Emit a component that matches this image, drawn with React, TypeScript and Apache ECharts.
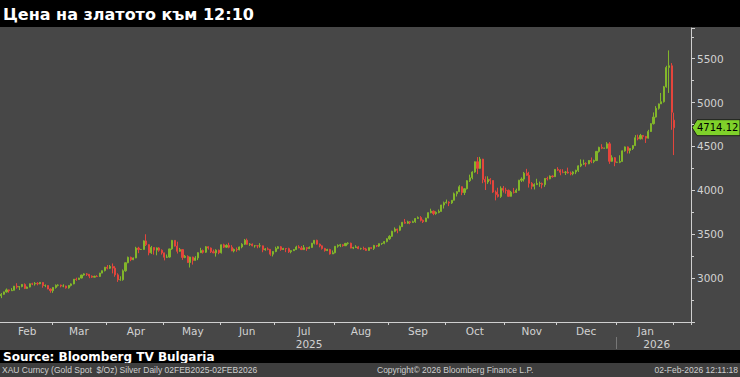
import React, { useEffect, useRef } from "react";
import * as echarts from "echarts";

// ---- Data: daily gold spot candles [open, close, low, high] ----
const feb25 = [
  [2798, 2815, 2772, 2830], [2815, 2843, 2810, 2846], [2843, 2866, 2835, 2882], [2866, 2856, 2834, 2870], [2856, 2861, 2853, 2886],
  [2861, 2908, 2860, 2911], [2908, 2898, 2880, 2942], [2898, 2904, 2864, 2910], [2904, 2928, 2895, 2932], [2928, 2883, 2875, 2940],
  [2883, 2898, 2880, 2905], [2898, 2935, 2895, 2938], [2935, 2933, 2920, 2947], [2933, 2940, 2915, 2955], [2940, 2936, 2918, 2954],
  [2936, 2951, 2930, 2956], [2951, 2915, 2890, 2953], [2915, 2916, 2897, 2928], [2916, 2876, 2873, 2918], [2876, 2857, 2833, 2882],
];
const mar25 = [
  [2857, 2893, 2832, 2896], [2893, 2918, 2880, 2928], [2918, 2920, 2905, 2930], [2920, 2910, 2895, 2926], [2910, 2910, 2896, 2930],
  [2910, 2889, 2880, 2914], [2889, 2917, 2880, 2920], [2917, 2934, 2905, 2940], [2934, 2988, 2930, 2990], [2988, 2984, 2970, 3005],
  [2984, 3001, 2982, 3004], [3001, 3035, 2998, 3038], [3035, 3048, 3027, 3055], [3048, 3044, 3025, 3057], [3044, 3023, 2999, 3047],
  [3023, 3011, 3003, 3031], [3011, 3020, 3010, 3028], [3020, 3019, 3012, 3034], [3019, 3057, 3013, 3060], [3057, 3085, 3055, 3087],
  [3085, 3124, 3076, 3128],
];
const apr25 = [
  [3124, 3113, 3100, 3149], [3113, 3133, 3105, 3149], [3133, 3114, 3054, 3167], [3114, 3037, 3015, 3136],
  [3037, 2982, 2957, 3055], [2982, 2982, 2970, 3021], [2982, 3083, 2970, 3099], [3083, 3175, 3073, 3177], [3175, 3237, 3170, 3245],
  [3237, 3210, 3193, 3245], [3210, 3230, 3205, 3235], [3230, 3342, 3227, 3357], [3342, 3327, 3284, 3357], [3327, 3327, 3322, 3332],
  [3327, 3424, 3325, 3430], [3424, 3381, 3366, 3500], [3381, 3288, 3260, 3386], [3288, 3349, 3276, 3367], [3349, 3319, 3268, 3353],
  [3319, 3344, 3260, 3350], [3344, 3317, 3300, 3353], [3317, 3288, 3268, 3328],
];
const may25 = [
  [3288, 3238, 3202, 3290], [3238, 3240, 3229, 3269],
  [3240, 3333, 3233, 3334], [3333, 3430, 3323, 3435], [3430, 3365, 3360, 3433], [3365, 3306, 3280, 3415], [3306, 3325, 3300, 3344],
  [3325, 3236, 3208, 3325], [3236, 3249, 3227, 3264], [3249, 3178, 3173, 3259], [3178, 3240, 3121, 3243], [3240, 3202, 3154, 3244],
  [3202, 3230, 3205, 3250], [3230, 3290, 3205, 3295], [3290, 3314, 3286, 3345], [3314, 3295, 3280, 3326], [3295, 3357, 3287, 3365],
  [3357, 3343, 3325, 3363], [3343, 3300, 3286, 3349], [3300, 3288, 3285, 3325], [3288, 3318, 3245, 3329], [3318, 3289, 3272, 3325],
];
const jun25 = [
  [3289, 3380, 3280, 3383], [3380, 3353, 3343, 3392], [3353, 3373, 3345, 3385], [3373, 3352, 3340, 3403], [3352, 3310, 3307, 3376],
  [3310, 3326, 3293, 3338], [3326, 3323, 3300, 3349], [3323, 3355, 3316, 3360], [3355, 3386, 3340, 3398], [3386, 3432, 3378, 3446],
  [3432, 3385, 3380, 3451], [3385, 3388, 3367, 3399], [3388, 3369, 3362, 3395], [3369, 3369, 3347, 3377], [3369, 3368, 3340, 3372],
  [3368, 3368, 3347, 3398], [3368, 3323, 3295, 3370], [3323, 3333, 3312, 3343], [3333, 3328, 3317, 3350], [3328, 3273, 3255, 3330],
  [3273, 3303, 3247, 3309],
];
const jul25 = [
  [3303, 3338, 3295, 3358], [3338, 3357, 3330, 3365], [3357, 3326, 3311, 3366], [3326, 3337, 3323, 3345],
  [3337, 3336, 3296, 3343], [3336, 3301, 3287, 3347], [3301, 3313, 3283, 3317], [3313, 3325, 3310, 3330], [3325, 3355, 3322, 3369],
  [3355, 3344, 3340, 3375], [3344, 3325, 3320, 3366], [3325, 3347, 3320, 3377], [3347, 3338, 3310, 3352], [3338, 3350, 3333, 3361],
  [3350, 3397, 3345, 3402], [3397, 3431, 3384, 3433], [3431, 3387, 3381, 3438], [3387, 3368, 3351, 3394], [3368, 3337, 3325, 3372],
  [3337, 3314, 3302, 3345], [3314, 3326, 3308, 3334], [3326, 3275, 3268, 3334], [3275, 3289, 3275, 3315],
];
const aug25 = [
  [3289, 3363, 3282, 3364],
  [3363, 3373, 3347, 3385], [3373, 3380, 3353, 3390], [3380, 3369, 3358, 3385], [3369, 3396, 3366, 3401], [3396, 3398, 3381, 3409],
  [3398, 3342, 3340, 3404], [3342, 3348, 3331, 3357], [3348, 3356, 3345, 3375], [3356, 3336, 3330, 3367], [3336, 3336, 3324, 3346],
  [3336, 3332, 3323, 3358], [3332, 3316, 3311, 3345], [3316, 3347, 3312, 3350], [3347, 3339, 3331, 3351], [3339, 3371, 3321, 3379],
  [3371, 3365, 3353, 3376], [3365, 3393, 3355, 3394], [3393, 3397, 3378, 3398], [3397, 3416, 3386, 3423], [3416, 3448, 3408, 3454],
];
const sep25 = [
  [3448, 3476, 3436, 3489], [3476, 3533, 3470, 3540], [3533, 3559, 3523, 3578], [3559, 3545, 3511, 3563], [3545, 3586, 3535, 3600],
  [3586, 3636, 3583, 3640], [3636, 3626, 3620, 3674], [3626, 3641, 3620, 3654], [3641, 3634, 3614, 3650], [3634, 3643, 3631, 3655],
  [3643, 3679, 3630, 3685], [3679, 3690, 3675, 3703], [3690, 3659, 3646, 3707], [3659, 3643, 3628, 3668], [3643, 3685, 3640, 3687],
  [3685, 3746, 3682, 3749], [3746, 3763, 3739, 3791], [3763, 3736, 3717, 3770], [3736, 3749, 3722, 3761], [3749, 3760, 3739, 3782],
  [3760, 3833, 3758, 3835], [3833, 3858, 3793, 3872],
];
const oct25 = [
  [3858, 3866, 3850, 3895], [3866, 3857, 3820, 3875], [3857, 3887, 3845, 3889],
  [3887, 3961, 3885, 3975], [3961, 3985, 3930, 3990], [3985, 4041, 3980, 4059], [4041, 3975, 3945, 4045], [3975, 4018, 3947, 4022],
  [4018, 4110, 4010, 4116], [4110, 4143, 4096, 4179], [4143, 4209, 4125, 4218], [4209, 4326, 4200, 4329], [4326, 4251, 4185, 4379],
  [4251, 4356, 4244, 4381], [4356, 4125, 4082, 4359], [4125, 4095, 4004, 4160], [4095, 4126, 4073, 4160], [4126, 4112, 4068, 4139],
  [4112, 3981, 3971, 4115], [3981, 3952, 3886, 3999], [3952, 3931, 3918, 4030], [3931, 4024, 3914, 4046], [4024, 4002, 3975, 4050],
];
const nov25 = [
  [4002, 4000, 3962, 4030], [4000, 3932, 3930, 4009], [3932, 3979, 3929, 3994], [3979, 3977, 3964, 4028], [3977, 4001, 3970, 4020],
  [4001, 4115, 3995, 4120], [4115, 4128, 4095, 4148], [4128, 4195, 4100, 4210], [4195, 4171, 4164, 4245], [4171, 4080, 4032, 4211],
  [4080, 4046, 4012, 4094], [4046, 4066, 4010, 4080], [4066, 4078, 4060, 4132], [4078, 4078, 4040, 4100], [4078, 4065, 4022, 4090],
  [4065, 4136, 4040, 4140], [4136, 4131, 4113, 4156], [4131, 4163, 4127, 4170], [4163, 4156, 4145, 4170], [4156, 4239, 4155, 4240],
];
const dec25 = [
  [4239, 4230, 4220, 4264], [4230, 4206, 4172, 4240], [4206, 4205, 4195, 4241], [4205, 4208, 4175, 4220], [4208, 4198, 4190, 4259],
  [4198, 4190, 4171, 4215], [4190, 4209, 4172, 4218], [4209, 4228, 4185, 4235], [4228, 4279, 4210, 4285], [4279, 4300, 4265, 4353],
  [4300, 4305, 4290, 4350], [4305, 4302, 4270, 4320], [4302, 4340, 4298, 4345], [4340, 4330, 4310, 4375], [4330, 4339, 4310, 4350],
  [4339, 4444, 4336, 4449], [4444, 4490, 4430, 4497], [4490, 4480, 4470, 4526], [4480, 4480, 4476, 4486], [4480, 4530, 4475, 4550],
  [4530, 4331, 4302, 4550], [4331, 4372, 4325, 4400], [4372, 4320, 4275, 4380],
];
const jan26 = [
  [4320, 4320, 4315, 4326], [4320, 4330, 4310, 4400],
  [4330, 4450, 4325, 4455], [4450, 4495, 4440, 4500], [4495, 4455, 4420, 4500], [4455, 4477, 4420, 4480], [4477, 4510, 4460, 4515],
  [4510, 4600, 4505, 4630], [4600, 4588, 4570, 4635], [4588, 4625, 4580, 4643], [4625, 4615, 4580, 4630], [4615, 4595, 4540, 4620],
  [4595, 4670, 4590, 4690], [4670, 4760, 4665, 4765], [4760, 4835, 4750, 4888], [4835, 4935, 4830, 4960], [4935, 4985, 4920, 4990],
  [4985, 5010, 4985, 5110], [5010, 5180, 5000, 5190], [5180, 5400, 5170, 5420], [5400, 5420, 5110, 5595], [5420, 4890, 4690, 5450],
];
const feb26 = [[4800, 4714, 4402, 4885]];

const ohlc = [...feb25, ...mar25, ...apr25, ...may25, ...jun25, ...jul25, ...aug25, ...sep25, ...oct25, ...nov25, ...dec25, ...jan26, ...feb26];

const LAST_PRICE = 4714.12;
const yTickLabels = [3000, 3500, 4000, 4500, 5000, 5500];
const monthNames = ["Jan", "Feb", "Mar", "Apr", "May", "Jun", "Jul", "Aug", "Sep", "Oct", "Nov", "Dec"];
const yearLabels: Record<string, string> = { "2025-07": "2025", "2026-01": "2026" };

const TITLE = "Цена на златото към 12:10";
const SOURCE = "Source: Bloomberg TV Bulgaria";
const FOOT_LEFT = "XAU Curncy (Gold Spot  $/Oz) Silver Daily 02FEB2025-02FEB2026";
const FOOT_MID = "Copyright© 2026 Bloomberg Finance L.P.";
const FOOT_RIGHT = "02-Feb-2026 12:11:18";

// weekday calendar: 02FEB2025 window, plus a few empty days on the right
const TOTAL_SLOTS = ohlc.length + 6;
function weekdays(start: string, n: number): string[] {
  const out: string[] = [];
  const d = new Date(start + "T00:00:00Z");
  while (out.length < n) {
    const wd = d.getUTCDay();
    if (wd !== 0 && wd !== 6) out.push(d.toISOString().slice(0, 10));
    d.setUTCDate(d.getUTCDate() + 1);
  }
  return out;
}
const categories = weekdays("2025-02-03", TOTAL_SLOTS);

const FONT = '"DejaVu Sans", Verdana, sans-serif';
const SMALL_FONT = '"Liberation Sans", Arial, sans-serif';
const UP = "#82b62a";
const DOWN = "#e4453c";
const AXIS = "#cfcfcf";
const BG = "#474747";

export default function App() {
  const ref = useRef<HTMLDivElement>(null);
  useEffect(() => {
    if (!ref.current) return;
    const chart = echarts.init(ref.current, null, { renderer: "svg" });

    const monthStart = new Set<number>();
    const labelAt = new Map<number, string>();
    let janStartIdx = -1;
    const months: { key: string; s: number; n: number }[] = [];
    categories.forEach((c, i) => {
      const key = c.slice(0, 7);
      const last = months[months.length - 1];
      if (!last || last.key !== key) months.push({ key, s: i, n: 1 });
      else last.n++;
    });
    months.forEach((m, mi) => {
      if (mi > 0) monthStart.add(m.s);
      if (m.key === "2026-01") janStartIdx = m.s;
      if (m.key >= "2026-02") return;
      const k = Math.round(m.s + m.n / 2 - 0.5);
      const name = monthNames[parseInt(m.key.slice(5, 7), 10) - 1];
      const yr = yearLabels[m.key];
      if (yr) labelAt.set(k, `{m|${name}}\n{${m.key === "2025-07" ? "ya" : "yb"}|${yr}}`);
      else labelAt.set(k, name);
    });

    const labelStyle = { color: "#d2d2d2", fontFamily: FONT, fontSize: 10.5, lineHeight: 13 };

    chart.setOption({
      animation: false,
      backgroundColor: BG,
      grid: { left: 0, right: 49, top: 28, bottom: 55 },
      xAxis: {
        type: "category",
        data: categories,
        boundaryGap: true,
        axisLine: { show: true, lineStyle: { color: AXIS, width: 1 } },
        axisTick: { show: true, interval: (i: number) => monthStart.has(i), length: 3, lineStyle: { color: AXIS } },
        axisLabel: {
          ...labelStyle,
          margin: 2,
          interval: (i: number) => labelAt.has(i),
          formatter: (_v: string, i: number) => labelAt.get(i) || "",
          rich: {
            m: { ...labelStyle },
            ya: { ...labelStyle, padding: [0, 0, 0, 10] },
            yb: { ...labelStyle, padding: [0, 0, 0, 22] },
          },
        },
        splitLine: { show: false },
      },
      yAxis: {
        type: "value",
        position: "right",
        min: 2500,
        max: 5850,
        interval: 500,
        axisLine: { show: true, lineStyle: { color: AXIS, width: 1 } },
        axisTick: { show: true, length: 4, lineStyle: { color: AXIS } },
        minorTick: { show: true, splitNumber: 2, length: 3, lineStyle: { color: AXIS } },
        splitLine: { show: false },
        minorSplitLine: { show: false },
        axisLabel: {
          color: "#d2d2d2",
          fontFamily: FONT,
          fontSize: 10.5,
          margin: 6,
          formatter: (v: number) => (yTickLabels.includes(v) ? String(v) : ""),
        },
      },
      series: [
        {
          type: "candlestick",
          data: ohlc,
          barWidth: 1.6,
          itemStyle: { color: UP, color0: DOWN, borderColor: UP, borderColor0: DOWN, borderWidth: 1 },
        },
      ],
    });

    const py = chart.convertToPixel({ yAxisIndex: 0 }, LAST_PRICE) as number;
    const bandW = 691 / TOTAL_SLOTS;
    const sepX = Math.round((chart.convertToPixel({ xAxisIndex: 0 }, janStartIdx) as number) - bandW / 2) + 0.5;

    chart.setOption({
      graphic: [
        { type: "rect", shape: { x: 0, y: 0, width: 740, height: 27 }, style: { fill: "#000" }, silent: true },
        { type: "text", x: 3, y: 14, style: { text: TITLE, fill: "#fff", font: `bold 16px ${FONT}`, verticalAlign: "middle" } },
        { type: "line", shape: { x1: sepX, y1: 337, x2: sepX, y2: 349 }, style: { stroke: "#777", lineWidth: 1 } },
        { type: "rect", shape: { x: 0, y: 350, width: 740, height: 13 }, style: { fill: "#000" }, silent: true },
        { type: "text", x: 3, y: 357, style: { text: SOURCE, fill: "#fff", font: `bold 12px ${FONT}`, verticalAlign: "middle" } },
        { type: "rect", shape: { x: 0, y: 363, width: 740, height: 14 }, style: { fill: "#3e3e3e" }, silent: true },
        { type: "text", x: 2, y: 370, style: { text: FOOT_LEFT, fill: "#cfcfcf", font: `8.5px ${SMALL_FONT}`, verticalAlign: "middle" } },
        { type: "text", x: 377, y: 370, style: { text: FOOT_MID, fill: "#cfcfcf", font: `8.5px ${SMALL_FONT}`, verticalAlign: "middle" } },
        { type: "text", x: 738, y: 370, style: { text: FOOT_RIGHT, fill: "#cfcfcf", font: `8.5px ${SMALL_FONT}`, verticalAlign: "middle", align: "right" } },
        {
          type: "polygon",
          shape: { points: [[692, py], [697, py - 8], [740, py - 8], [740, py + 8], [697, py + 8]] },
          style: { fill: "#7fd12a", stroke: "#1e1e1e", lineWidth: 1 },
        },
        { type: "text", x: 697, y: py, style: { text: LAST_PRICE.toFixed(2), fill: "#000", font: `10px ${FONT}`, verticalAlign: "middle" } },
      ],
    });

    return () => chart.dispose();
  }, []);
  return <div ref={ref} style={{ position: "fixed", left: 0, top: 0, width: 740, height: 377 }} />;
}
